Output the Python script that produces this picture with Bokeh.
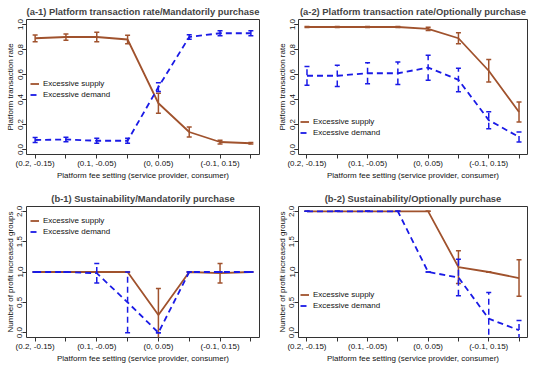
from bokeh.plotting import figure
from bokeh.models import Range1d, FixedTicker, Legend, LegendItem, PrintfTickFormatter
from bokeh.layouts import column, row
from bokeh.embed import file_html
from bokeh.resources import INLINE

# ---------------- data ----------------
x = [1, 2, 3, 4, 5, 6, 7, 8]
x_labels = ["(0.2, -0.15)", "(0.15, -0.1)", "(0.1, -0.05)", "(0.05, 0)",
            "(0, 0.05)", "(-0.05, 0.1)", "(-0.1, 0.15)", "(-0.15, 0.2)"]

a1_supply = [0.89, 0.90, 0.90, 0.88, 0.37, 0.14, 0.06, 0.05]
a1_supply_err = [0.027, 0.025, 0.038, 0.034, 0.08, 0.04, 0.015, 0.006]
a1_demand = [0.076, 0.08, 0.07, 0.07, 0.50, 0.90, 0.93, 0.93]
a1_demand_err = [0.02, 0.018, 0.02, 0.02, 0.035, 0.018, 0.02, 0.02]

a2_supply = [0.98, 0.98, 0.98, 0.98, 0.965, 0.89, 0.63, 0.30]
a2_supply_err = [0.004, 0.004, 0.004, 0.004, 0.013, 0.044, 0.09, 0.08]
a2_demand = [0.59, 0.59, 0.61, 0.61, 0.655, 0.557, 0.235, 0.10]
a2_demand_err = [0.075, 0.085, 0.084, 0.09, 0.10, 0.094, 0.068, 0.04]

b1_supply = [1.0, 1.0, 1.0, 1.0, 0.29, 1.0, 0.98, 1.0]
b1_supply_err = [0, 0, 0, 0, 0.44, 0, 0.16, 0]
b1_demand = [1.0, 1.0, 0.98, 0.5, 0.0, 1.0, 1.0, 1.0]
b1_demand_err = [0, 0, 0.16, 0.5, 0, 0, 0, 0]

b2_supply = [2.0, 2.0, 2.0, 2.0, 2.0, 1.08, 1.0, 0.9]
b2_supply_err = [0, 0, 0, 0, 0, 0.27, 0, 0.3]
b2_demand = [2.0, 2.0, 2.0, 2.0, 1.0, 0.91, 0.23, 0.04]
b2_demand_err = [0, 0, 0, 0, 0, 0.3, 0.43, 0.16]

rate_ticks = [0.0, 0.2, 0.4, 0.6, 0.8, 1.0]
groups_ticks = [0.0, 0.5, 1.0, 1.5, 2.0]

series_names = ["Excessive supply", "Excessive demand"]
x_title = "Platform fee setting (service provider, consumer)"

# ---------------- style ----------------
FONT = "Liberation Sans"
BROWN = "#A0522D"
BLUE = "#1A1AE6"
DASH = "6 4"


def add_series(p, ys, errs, color, dash):
    lo = [v - e for v, e in zip(ys, errs)]
    hi = [v + e for v, e in zip(ys, errs)]
    p.segment(x0=x, y0=lo, x1=x, y1=hi, line_color=color, line_width=1.5, line_dash=dash)
    p.dash(x=x, y=lo, size=5, line_color=color, line_width=1.5)
    p.dash(x=x, y=hi, size=5, line_color=color, line_width=1.5)
    return p.line(x=x, y=ys, line_color=color, line_width=1.8, line_dash=dash)


def make_panel(title, ylabel, ymax, yticks, supply, s_err, demand, d_err,
               w, h, ml, mr, mt, mb, leg_xy):
    p = figure(width=w, height=h, output_backend="svg", toolbar_location=None, tools="",
               x_range=Range1d(0.72, 8.28), y_range=Range1d(-0.04 * ymax, 1.04 * ymax),
               min_border_left=ml, min_border_right=mr, min_border_top=mt, min_border_bottom=mb)
    p.background_fill_color = "white"
    p.border_fill_color = "white"
    p.grid.visible = False
    p.outline_line_color = "#333333"
    p.outline_line_width = 1

    p.title.text = title
    p.title.text_font = FONT
    p.title.text_font_size = "9.4px"
    p.title.text_font_style = "bold"
    p.title.align = "center"
    p.title.standoff = 5

    p.xaxis.ticker = FixedTicker(ticks=x)
    p.xaxis.major_label_overrides = {xi: (lab if i % 2 == 0 else "") for i, (xi, lab) in enumerate(zip(x, x_labels))}
    p.yaxis.ticker = FixedTicker(ticks=yticks)
    p.yaxis.formatter = PrintfTickFormatter(format="%.1f")
    p.yaxis.major_label_orientation = "vertical"

    for ax in (p.xaxis[0], p.yaxis[0]):
        ax.axis_line_color = None
        ax.major_tick_in = 0
        ax.major_tick_out = 4
        ax.major_tick_line_color = "#333333"
        ax.minor_tick_line_color = None
        ax.major_label_text_font = FONT
        ax.major_label_text_font_size = "8px"
        ax.major_label_text_color = "#111111"
        ax.major_label_standoff = 0
        ax.axis_label_text_font = FONT
        ax.axis_label_text_font_size = "8px"
        ax.axis_label_text_font_style = "normal"
        ax.axis_label_text_color = "#111111"
        ax.axis_label_standoff = 0
    p.xaxis.axis_label = x_title
    p.yaxis.axis_label = ylabel

    r_s = add_series(p, supply, s_err, BROWN, "solid")
    r_d = add_series(p, demand, d_err, BLUE, DASH)

    leg = Legend(items=[LegendItem(label=series_names[0], renderers=[r_s]),
                        LegendItem(label=series_names[1], renderers=[r_d])],
                 location=leg_xy, orientation="vertical",
                 label_text_font=FONT, label_text_font_size="8px", label_text_color="#111111",
                 glyph_width=9, glyph_height=9, label_height=9, label_standoff=4, spacing=2,
                 padding=0, margin=0, background_fill_alpha=0, border_line_alpha=0)
    p.add_layout(leg)
    return p


p1 = make_panel("(a-1) Platform transaction rate/Mandatorily purchase", "Platform transaction rate",
                1.0, rate_ticks, a1_supply, a1_supply_err, a1_demand, a1_demand_err,
                267, 182, 26, 8, 19, 27, (4, 55))
p2 = make_panel("(a-2) Platform transaction rate/Optionally purchase", "Platform transaction rate",
                1.0, rate_ticks, a2_supply, a2_supply_err, a2_demand, a2_demand_err,
                267, 182, 31, 7, 19, 27, (2, 17))
p3 = make_panel("(b-1) Sustainability/Mandatorily purchase", "Number of profit increased groups",
                2.0, groups_ticks, b1_supply, b1_supply_err, b1_demand, b1_demand_err,
                267, 183, 26, 8, 24, 27, (4, 101))
p4 = make_panel("(b-2) Sustainability/Optionally purchase", "Number of profit increased groups",
                2.0, groups_ticks, b2_supply, b2_supply_err, b2_demand, b2_demand_err,
                267, 183, 31, 7, 24, 27, (2, 27))

layout = column(row(p1, p2), row(p3, p4))
open("out.html", "w").write(file_html(layout, INLINE))
